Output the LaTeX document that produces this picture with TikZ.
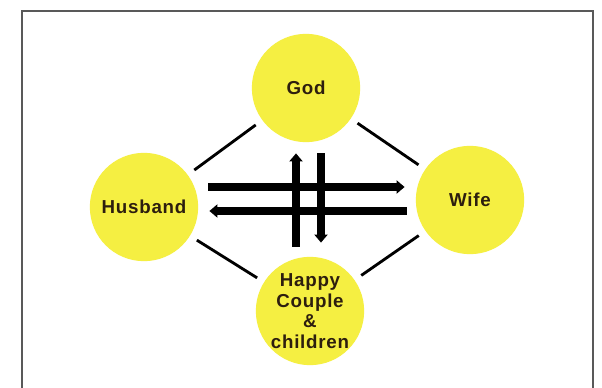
\documentclass[tikz,border=0pt]{standalone}
\usepackage{fontspec}
\setmainfont{Liberation Sans}[LetterSpace=4]
\usetikzlibrary{arrows.meta}

\definecolor{discyellow}{RGB}{245,239,66}
\definecolor{inkbrown}{RGB}{45,30,14}

\begin{document}
\begin{tikzpicture}[
    x=0.3mm, y=0.3mm,
    font=\bfseries\fontsize{16}{17.5}\selectfont,
    disc/.style={circle, fill=discyellow, draw=none, minimum size=32.5mm,
                 inner sep=0pt, align=center, text=inkbrown},
    link/.style={line width=0.85mm, shorten <=2.4mm, shorten >=2.4mm},
    fat arrow/.style={line width=2.3mm,
                      -{Triangle[width=3.9mm, length=2.4mm]}},
]

% --- canvas and frame ---
\useasboundingbox (0,0) rectangle (602,387);
\clip (0,0) rectangle (602,387);
\fill[white] (0,0) rectangle (602,387);
\draw[line width=0.5mm, gray!70!black] (22,-20) -- (22,376) -- (593,376) -- (593,-20);

% --- the four discs ---
\node[disc] (God)     at (306,299) {God};
\node[disc] (Husband) at (144,180) {Husband};
\node[disc] (Wife)    at (470,187) {Wife};
\node[disc] (Happy)   at (310,76)  {Happy\\Couple\\\&\\children};

% --- thin links round the diamond ---
\draw[link] (Husband) -- (God);
\draw[link] (God) -- (Wife);
\draw[link] (Husband) -- (Happy);
\draw[link] (Happy) -- (Wife);

% --- horizontal arrows ---
\draw[fat arrow] ([shift={(10,20)}]Husband.east) -- ([shift={(-11,13)}]Wife.west);
\draw[fat arrow] ([shift={(-9,-11)}]Wife.west) -- ([shift={(11,-4)}]Husband.east);

% --- vertical arrows ---
\draw[fat arrow] ([shift={(-14,10)}]Happy.north) -- ([shift={(-10,-11)}]God.south);
\draw[fat arrow] ([shift={(15,-11)}]God.south) -- ([shift={(11,14)}]Happy.north);

\end{tikzpicture}
\end{document}
